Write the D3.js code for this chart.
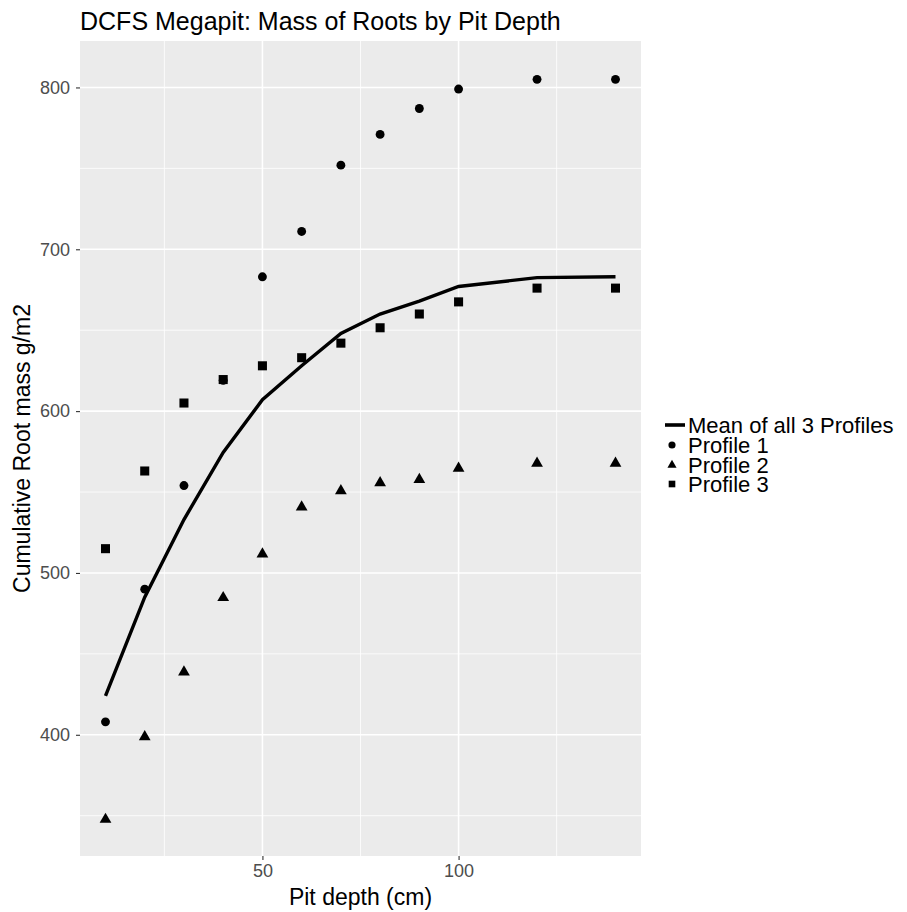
<!DOCTYPE html>
<html>
<head>
<meta charset="utf-8">
<script src="https://cdn.jsdelivr.net/npm/d3@7"></script>
<style>
body { margin: 0; background: white; }
text { font-family: "Liberation Sans", Arial, sans-serif; }
</style>
</head>
<body>
<svg id="chart"></svg>
<script>
const w = 907
const h = 912
const margin = { left: 80, top: 41, right: 266, bottom: 56 }

// pit depth in cm
const depth = [10, 20, 30, 40, 50, 60, 70, 80, 90, 100, 120, 140]
const profile1 = [408, 490, 554, 619, 683, 711, 752, 771, 787, 799, 805, 805]
const profile2 = [348, 399, 439, 485, 512, 541, 551, 556, 558, 565, 568, 568]
const profile3 = [515, 563, 605, 619.5, 628, 633, 642, 651.5, 660, 667.5, 676, 676]
const meanAll = [424, 485, 533, 574.5, 607, 628, 648, 660, 668, 677, 682.5, 683]

const xTicks = [50, 100]
const xMinor = [25, 75, 125]
const yTicks = [400, 500, 600, 700, 800]
const yMinor = [350, 450, 550, 650, 750]
const legendLabels = ['Mean of all 3 Profiles', 'Profile 1', 'Profile 2', 'Profile 3']

const innerWidth = w - margin.left - margin.right
const innerHeight = h - margin.top - margin.bottom

const svg = d3.select('#chart')
	.attr('width', w)
	.attr('height', h)

// ggplot style 5% expansion
const xScale = d3.scaleLinear()
	.domain([3.5, 146.5])
	.range([0, innerWidth])
const yScale = d3.scaleLinear()
	.domain([325.1, 828.7])
	.range([innerHeight, 0])

const inner = svg.append('g')
	.attr('transform', `translate(${margin.left}, ${margin.top})`)

inner.append('rect')
	.attr('width', innerWidth)
	.attr('height', innerHeight)
	.attr('fill', '#ebebeb')

//grid
inner.selectAll('.ymin').data(yMinor).enter().append('line')
	.attr('x1', 0).attr('x2', innerWidth)
	.attr('y1', d => yScale(d)).attr('y2', d => yScale(d))
	.attr('stroke', 'white').attr('stroke-width', 0.8)
inner.selectAll('.xmin').data(xMinor).enter().append('line')
	.attr('y1', 0).attr('y2', innerHeight)
	.attr('x1', d => xScale(d)).attr('x2', d => xScale(d))
	.attr('stroke', 'white').attr('stroke-width', 0.8)
inner.selectAll('.ymaj').data(yTicks).enter().append('line')
	.attr('x1', 0).attr('x2', innerWidth)
	.attr('y1', d => yScale(d)).attr('y2', d => yScale(d))
	.attr('stroke', 'white').attr('stroke-width', 1.6)
inner.selectAll('.xmaj').data(xTicks).enter().append('line')
	.attr('y1', 0).attr('y2', innerHeight)
	.attr('x1', d => xScale(d)).attr('x2', d => xScale(d))
	.attr('stroke', 'white').attr('stroke-width', 1.6)

//axes
const xAxis = inner.append('g')
	.attr('transform', `translate(0, ${innerHeight})`)
	.call(d3.axisBottom(xScale).tickValues(xTicks).tickSize(4).tickPadding(4))
const yAxis = inner.append('g')
	.call(d3.axisLeft(yScale).tickValues(yTicks).tickSize(4).tickPadding(6))
for (const ax of [xAxis, yAxis]) {
	ax.select('.domain').remove()
	ax.selectAll('line').attr('stroke', '#333333').attr('stroke-width', 1.1)
	ax.selectAll('text')
		.attr('fill', '#4d4d4d')
		.attr('font-size', 18)
		.attr('font-family', '"Liberation Sans", Arial, sans-serif')
}

// mean line
let line = d3.line()
	.x((_, i) => xScale(depth[i]))
	.y(d => yScale(d))
inner.append('path')
	.attr('d', line(meanAll))
	.attr('stroke', 'black')
	.attr('stroke-width', 3.4)
	.attr('fill', 'none')

const circle = d3.symbol().type(d3.symbolCircle).size(62)
const triangle = d3.symbol().type(d3.symbolTriangle).size(60)
const square = d3.symbol().type(d3.symbolSquare).size(82)

function draw_points(values, sym, yOff) {
	inner.append('g').selectAll('path').data(values).enter().append('path')
		.attr('d', sym)
		.attr('transform', (d, i) => `translate(${xScale(depth[i])}, ${yScale(d) + yOff})`)
		.attr('fill', 'black')
}
draw_points(profile1, circle, 0)
draw_points(profile2, triangle, 0.5)
draw_points(profile3, square, 0)

//titles
svg.append('text')
	.attr('x', margin.left)
	.attr('y', 30)
	.attr('font-size', 25)
	.text('DCFS Megapit: Mass of Roots by Pit Depth')
svg.append('text')
	.attr('x', margin.left + innerWidth / 2)
	.attr('y', 905)
	.attr('text-anchor', 'middle')
	.attr('font-size', 23)
	.text('Pit depth (cm)')
svg.append('text')
	.attr('transform', `translate(30, ${margin.top + innerHeight / 2}) rotate(-90)`)
	.attr('text-anchor', 'middle')
	.attr('font-size', 23)
	.text('Cumulative Root mass g/m2')

// legend
const legendY = [425, 445, 465, 484]
const legend = svg.append('g')
legend.selectAll('text').data(legendLabels).enter().append('text')
	.attr('x', 688)
	.attr('y', (_, i) => legendY[i])
	.attr('dy', '0.35em')
	.attr('font-size', 22)
	.text(d => d)
legend.append('line')
	.attr('x1', 665).attr('x2', 685)
	.attr('y1', legendY[0]).attr('y2', legendY[0])
	.attr('stroke', 'black').attr('stroke-width', 3.6)
const keySyms = [d3.symbol().type(d3.symbolCircle).size(40), d3.symbol().type(d3.symbolTriangle).size(36), d3.symbol().type(d3.symbolSquare).size(44)]
keySyms.forEach((s, i) => {
	legend.append('path')
		.attr('d', s)
		.attr('transform', `translate(672, ${legendY[i + 1]})`)
		.attr('fill', 'black')
})
</script>
</body>
</html>
